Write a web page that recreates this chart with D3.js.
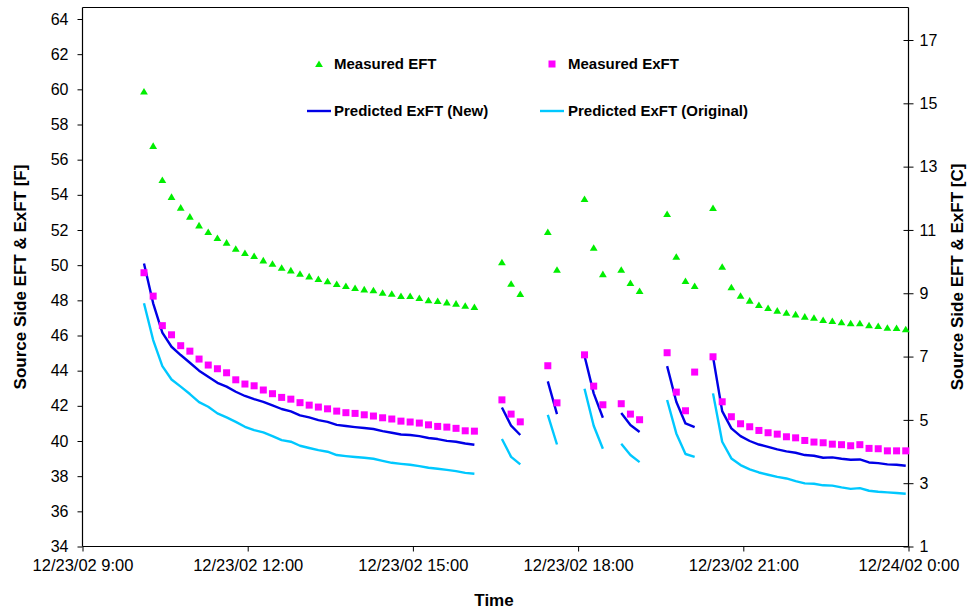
<!DOCTYPE html>
<html><head><meta charset="utf-8">
<script src="https://cdn.jsdelivr.net/npm/d3@7"></script>
<style>
html,body{margin:0;padding:0;background:#fff;}
text{font-family:"Liberation Sans",Arial,sans-serif;}
</style></head>
<body><svg id="c" width="968" height="609"></svg>
<script>
// ---- data ----
const times = [
"10:07","10:17","10:27","10:37","10:47","10:57",
"11:07","11:17","11:27","11:37","11:47","11:57",
"12:07","12:17","12:27","12:37","12:47","12:57",
"13:07","13:17","13:27","13:37","13:47","13:57",
"14:07","14:17","14:27","14:37","14:47","14:57",
"15:07","15:17","15:27","15:37","15:47","15:57",
"16:07","16:17","16:27","16:37","16:47","16:57",
"17:07","17:17","17:27","17:37","17:47","17:57",
"18:07","18:17","18:27","18:37","18:47","18:57",
"19:07","19:17","19:27","19:37","19:47","19:57",
"20:07","20:17","20:27","20:37","20:47","20:57",
"21:07","21:17","21:27","21:37","21:47","21:57",
"22:07","22:17","22:27","22:37","22:47","22:57",
"23:07","23:17","23:27","23:37","23:47","23:57"];

const measuredEFT = [
59.87,56.78,54.84,53.88,53.27,52.76,52.26,51.88,51.54,51.28,50.93,50.69,50.52,50.27,50.08,49.85,49.70,49.51,49.36,49.21,49.08,48.93,48.81,48.70,48.62,48.57,48.43,48.37,48.24,48.24,48.13,48.00,47.96,47.88,47.81,47.69,47.62,
null,null,50.16,48.94,48.36,null,null,51.88,49.74,null,null,53.76,50.99,49.49,null,49.74,48.98,48.53,null,null,52.91,50.48,49.10,48.81,null,
53.25,49.91,48.74,48.26,47.98,47.73,47.56,47.41,47.29,47.20,47.07,47.01,46.88,46.82,46.75,46.69,46.69,46.58,46.54,46.44,46.42,46.35];

const measuredExFT = [
49.57,48.24,46.56,46.04,45.42,45.11,44.66,44.32,44.11,43.88,43.48,43.24,43.14,42.90,42.69,42.48,42.38,42.18,42.04,41.93,41.83,41.70,41.61,41.57,41.49,41.42,41.32,41.25,41.13,41.08,41.02,40.92,40.83,40.79,40.72,40.58,40.56,
null,null,42.34,41.53,41.09,null,null,44.28,42.17,null,null,44.90,43.12,42.06,null,42.12,41.53,41.21,null,null,45.02,42.78,41.72,43.92,null,
44.79,42.23,41.38,40.98,40.81,40.60,40.47,40.39,40.24,40.18,40.03,39.94,39.90,39.82,39.79,39.73,39.79,39.58,39.56,39.44,39.44,39.44];

const predictedNew = [
50.10,47.83,46.16,45.36,44.89,44.45,44.00,43.65,43.31,43.09,42.80,42.56,42.38,42.23,42.03,41.82,41.68,41.46,41.34,41.19,41.09,40.92,40.85,40.79,40.74,40.68,40.56,40.47,40.37,40.34,40.28,40.17,40.11,40.01,39.96,39.86,39.79,
null,null,41.91,40.87,40.34,null,null,43.39,41.53,null,null,44.83,42.71,41.32,null,41.59,40.91,40.51,null,null,44.26,42.23,41.00,40.79,null,
44.79,41.70,40.72,40.28,40.00,39.80,39.67,39.52,39.41,39.33,39.20,39.16,39.05,39.07,38.99,38.93,38.95,38.78,38.74,38.67,38.65,38.59];

const predictedOriginal = [
47.83,45.74,44.26,43.50,43.09,42.67,42.21,41.95,41.57,41.34,41.09,40.81,40.62,40.49,40.28,40.05,39.96,39.73,39.60,39.48,39.39,39.20,39.14,39.09,39.05,38.99,38.87,38.76,38.70,38.65,38.57,38.48,38.42,38.36,38.29,38.19,38.14,
null,null,40.11,39.10,38.67,null,null,41.49,39.80,null,null,42.97,40.87,39.56,null,39.84,39.20,38.80,null,null,42.33,40.43,39.26,39.10,null,
42.71,39.96,39.01,38.63,38.39,38.21,38.08,37.96,37.87,37.72,37.59,37.57,37.48,37.46,37.36,37.28,37.32,37.17,37.11,37.08,37.04,37.00];

const leftTicks = [34,36,38,40,42,44,46,48,50,52,54,56,58,60,62,64];
const rightTicks = [1,3,5,7,9,11,13,15,17];
const xTickLabels = ["2002-12-23T09:00","2002-12-23T12:00","2002-12-23T15:00","2002-12-23T18:00","2002-12-23T21:00","2002-12-24T00:00"];

const legendItems = [
  {name:"Measured EFT", kind:"tri", color:"#00ee00"},
  {name:"Measured ExFT", kind:"sq", color:"#ff00ff"},
  {name:"Predicted ExFT (New)", kind:"line", color:"#0000e6"},
  {name:"Predicted ExFT (Original)", kind:"line", color:"#00c8ff"}
];

// ---- layout ----
const L = 82.5, R = 908.5, T = 7.5, B = 546.5;
const parse = d3.timeParse("%Y-%m-%dT%H:%M");
const dates = times.map(t => parse("2002-12-23T" + t));

const x = d3.scaleTime().domain([parse("2002-12-23T09:00"), parse("2002-12-24T00:00")]).range([L, R]);
const yL = d3.scaleLinear().domain([34, 34 + 30 * (B - T) / (B - 19)]).range([B, T]);
const yR = d3.scaleLinear().domain([1, 1 + 16 * (B - T) / (B - 40)]).range([B, T]);

const svg = d3.select("#c");

function rows(vals){ return vals.map((v,i)=>({t:dates[i], v})); }

// frame top line
svg.append("line").attr("x1",L).attr("x2",R).attr("y1",T).attr("y2",T).attr("stroke","#000").attr("stroke-width",1);

// axes
const fmt = d3.timeFormat("%m/%d/%y %-H:%M");
const xAxis = d3.axisBottom(x).tickValues(xTickLabels.map(parse)).tickFormat(fmt).tickSize(5).tickPadding(8);
const gx = svg.append("g").attr("transform",`translate(0,${B})`).call(xAxis);
gx.selectAll("text").attr("font-size","16.5px").attr("fill","#000");

const gl = svg.append("g").attr("transform",`translate(${L},0)`).call(d3.axisLeft(yL).tickValues(leftTicks).tickSize(5).tickPadding(9));
gl.selectAll("text").attr("font-size","16px").attr("fill","#000");

const gr = svg.append("g").attr("transform",`translate(${R},0)`).call(d3.axisRight(yR).tickValues(rightTicks).tickSize(5).tickPadding(6));
gr.selectAll("text").attr("font-size","16px").attr("fill","#000");
gr.selectAll(".tick line").attr("x1",-5);

[gx,gl,gr].forEach(g=>{
  g.selectAll(".domain").attr("stroke","#000").attr("stroke-width",1.2);
  g.selectAll(".tick line").attr("stroke","#000");
});
gx.select(".domain").attr("d",`M${L},0H${R}`);
gl.select(".domain").attr("d",`M0,${T}V${B}`);
gr.select(".domain").attr("d",`M0,${T}V${B}`);

// titles
svg.append("text").attr("x",494).attr("y",606).attr("text-anchor","middle").attr("font-weight","bold").attr("font-size","17px").text("Time");
svg.append("text").attr("transform",`translate(20,${(T+B)/2}) rotate(-90)`).attr("dy","0.36em").attr("text-anchor","middle").attr("font-weight","bold").attr("font-size","17px").text("Source Side EFT & ExFT [F]");
svg.append("text").attr("transform",`translate(957,${(T+B)/2}) rotate(-90)`).attr("dy","0.36em").attr("text-anchor","middle").attr("font-weight","bold").attr("font-size","17px").text("Source Side EFT & ExFT [C]");

// lines
const line = d3.line().defined(d=>d.v!=null).x(d=>x(d.t)).y(d=>yL(d.v));
svg.append("path").datum(rows(predictedOriginal)).attr("d",line).attr("fill","none").attr("stroke",legendItems[3].color).attr("stroke-width",2.4).attr("stroke-linejoin","round");
svg.append("path").datum(rows(predictedNew)).attr("d",line).attr("fill","none").attr("stroke",legendItems[2].color).attr("stroke-width",2.4).attr("stroke-linejoin","round");

// markers
const triPath = "M0,-3.6L3.9,3L-3.9,3Z";
svg.append("g").selectAll("path").data(rows(measuredEFT).filter(d=>d.v!=null)).join("path")
  .attr("d",triPath).attr("transform",d=>`translate(${x(d.t)},${yL(d.v)})`).attr("fill",legendItems[0].color);
svg.append("g").selectAll("rect").data(rows(measuredExFT).filter(d=>d.v!=null)).join("rect")
  .attr("x",d=>x(d.t)-3.5).attr("y",d=>yL(d.v)-3.5).attr("width",7).attr("height",7).attr("fill",legendItems[1].color);

// legend
const leg = svg.append("g");
const legPos = [{mx:319,tx:334,y:64},{mx:552,tx:568,y:64},{mx:319,tx:334,y:111},{mx:552,tx:568,y:111}];
legendItems.forEach((it,i)=>{
  const p = legPos[i];
  if(it.kind==="tri") leg.append("path").attr("d",triPath).attr("transform",`translate(${p.mx},${p.y})`).attr("fill",it.color);
  if(it.kind==="sq") leg.append("rect").attr("x",p.mx-3.5).attr("y",p.y-3.5).attr("width",7).attr("height",7).attr("fill",it.color);
  if(it.kind==="line") leg.append("line").attr("x1",p.mx-12).attr("x2",p.mx+12).attr("y1",p.y).attr("y2",p.y).attr("stroke",it.color).attr("stroke-width",2.4);
  leg.append("text").attr("x",p.tx).attr("y",p.y+5).attr("font-weight","bold").attr("font-size","15px").text(it.name);
});
</script></body></html>
